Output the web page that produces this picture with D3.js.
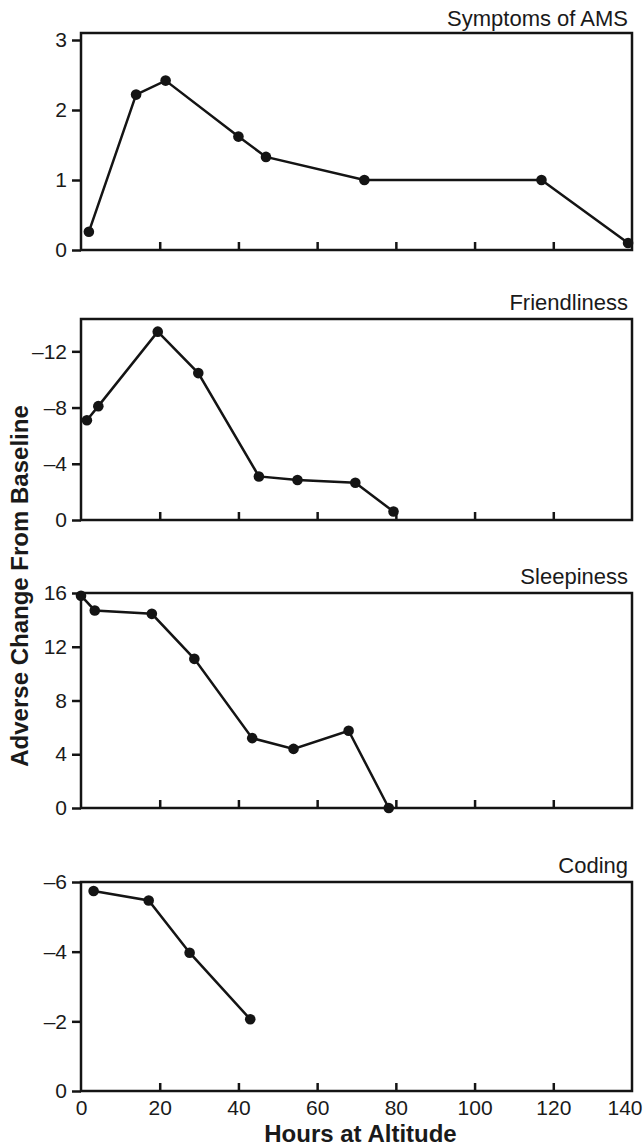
<!DOCTYPE html>
<html>
<head>
<meta charset="utf-8">
<script src="https://cdn.jsdelivr.net/npm/d3@7"></script>
<style>
  body { margin: 0; background: #fff; }
  svg text { font-family: "Liberation Sans", Arial, Helvetica, sans-serif; fill: #1a1a1a; }
</style>
</head>
<body>
<svg id="chart" width="644" height="1146"></svg>
<script>
"use strict";

// data (hours at altitude vs adverse change)
const amsHours = [2, 14, 21.5, 40, 47, 72, 117, 139];
const amsValues = [0.26, 2.22, 2.42, 1.62, 1.33, 1.0, 1.0, 0.1];

const friendHours = [1.5, 4.4, 19.5, 29.8, 45.2, 55, 69.7, 79.4];
const friendValues = [-7.1, -8.1, -13.4, -10.45, -3.1, -2.85, -2.65, -0.6];

const sleepHours = [0, 3.5, 18, 28.8, 43.5, 54, 68, 78.2];
const sleepValues = [15.8, 14.7, 14.45, 11.1, 5.2, 4.4, 5.75, 0];

const codingHours = [3.2, 17.2, 27.6, 43];
const codingValues = [-5.74, -5.47, -3.97, -2.06];

const panelTitles = ["Symptoms of AMS", "Friendliness", "Sleepiness", "Coding"];
const yTicks = [[0, 1, 2, 3], [0, -4, -8, -12], [0, 4, 8, 12, 16], [0, -2, -4, -6]];
const yTops = [3.1, -14.3, 16, -6];
const xTicks = [0, 20, 40, 60, 80, 100, 120, 140];

const left = 81, right = 632;
// top / bottom pixel of each panel
const panelBox = [[33, 250], [319, 520], [593, 808], [882, 1091]];

const series = [
  [amsHours, amsValues],
  [friendHours, friendValues],
  [sleepHours, sleepValues],
  [codingHours, codingValues]
];

const ink = "#141414";
const svg = d3.select("#chart");

const x = d3.scaleLinear().domain([0, 140]).range([left, right]);

function fmt(v) {
  return v < 0 ? "\u2013" + Math.abs(v) : String(v);
}

series.forEach(function (s, i) {
  const top = panelBox[i][0], bottom = panelBox[i][1];
  const y = d3.scaleLinear().domain([0, yTops[i]]).range([bottom, top]);
  const g = svg.append("g");

  // frame
  g.append("rect")
    .attr("x", left).attr("y", top)
    .attr("width", right - left).attr("height", bottom - top)
    .attr("fill", "none").attr("stroke", ink).attr("stroke-width", 2.5);

  // y axis
  const ya = g.append("g")
    .attr("transform", "translate(" + left + ",0)")
    .call(d3.axisLeft(y).tickValues(yTicks[i]).tickFormat(fmt).tickSize(9).tickPadding(5));
  ya.select(".domain").remove();
  ya.selectAll("line").attr("stroke", ink).attr("stroke-width", 2.5);
  ya.selectAll("text").attr("font-size", 21).attr("fill", ink);

  // x ticks (inside, pointing up)
  const xa = g.append("g")
    .attr("transform", "translate(0," + bottom + ")")
    .call(d3.axisBottom(x).tickValues(i === 3 ? xTicks : xTicks.slice(1, -1))
      .tickSize(-8).tickPadding(i === 3 ? 9 : 0));
  xa.select(".domain").remove();
  xa.selectAll("line").attr("stroke", ink).attr("stroke-width", 2.5);
  if (i === 3) {
    xa.selectAll("line").filter(function (d) { return d === 0 || d === 140; }).remove();
    xa.selectAll("text").attr("font-size", 21).attr("fill", ink)
      .filter(function (d) { return d === 140; }).attr("text-anchor", "end").attr("dx", 10);
  } else {
    xa.selectAll("text").remove();
  }

  // title
  g.append("text")
    .attr("x", 628).attr("y", i === 0 ? top - 7 : top - 9)
    .attr("text-anchor", "end")
    .attr("font-size", 22)
    .text(panelTitles[i]);

  const pts = s[0].map(function (h, k) { return [h, s[1][k]]; });

  g.append("path")
    .datum(pts)
    .attr("fill", "none").attr("stroke", ink).attr("stroke-width", 2.5)
    .attr("d", d3.line().x(function (d) { return x(d[0]); }).y(function (d) { return y(d[1]); }));

  g.selectAll("circle")
    .data(pts)
    .enter()
    .append("circle")
    .attr("cx", function (d) { return x(d[0]); })
    .attr("cy", function (d) { return y(d[1]); })
    .attr("r", 5.3)
    .attr("fill", ink);
});

svg.append("text")
  .attr("x", (left + right) / 2 + 4).attr("y", 1142)
  .attr("text-anchor", "middle")
  .attr("font-size", 24).attr("font-weight", "bold")
  .text("Hours at Altitude");

svg.append("text")
  .attr("transform", "translate(28,586) rotate(-90)")
  .attr("text-anchor", "middle")
  .attr("font-size", 24).attr("font-weight", "bold")
  .text("Adverse Change From Baseline");
</script>
</body>
</html>
